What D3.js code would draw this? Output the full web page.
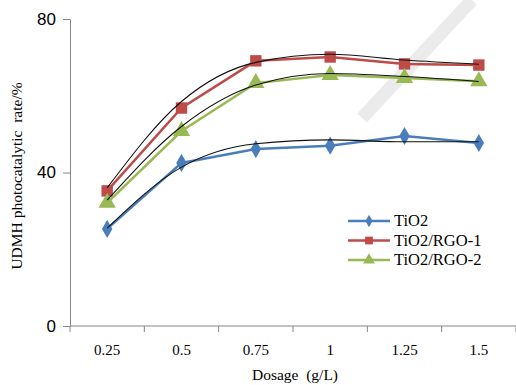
<!DOCTYPE html>
<html>
<head>
<meta charset="utf-8">
<script src="https://cdn.jsdelivr.net/npm/d3@7"></script>
<style>
  body { margin: 0; background: #fff; }
  svg { display: block; }
</style>
</head>
<body>
<div id="chart"></div>
<script>
// data
const dosages = ['0.25', '0.5', '0.75', '1', '1.25', '1.5'];
const tio2 = [25.3, 42.5, 46.1, 47.0, 49.5, 47.7];
const rgo1 = [35.2, 56.8, 69.1, 70.1, 68.3, 68.0];
const rgo2 = [32.1, 50.8, 63.3, 65.4, 64.6, 63.8];
// black trend curves
const tio2Trend = [25.5, 41.4, 47.5, 48.5, 48.0, 48.0];
const rgo1Trend = [36.0, 58.5, 68.7, 70.8, 69.3, 68.2];
const rgo2Trend = [32.8, 52.0, 62.8, 65.8, 65.0, 63.7];
const yTicks = [0, 40, 80];

const series = [
  { name: 'TiO2', values: tio2, trend: tio2Trend, color: '#4a7ebb', shape: d3.symbolDiamond },
  { name: 'TiO2/RGO-1', values: rgo1, trend: rgo1Trend, color: '#be4b48', shape: d3.symbolSquare },
  { name: 'TiO2/RGO-2', values: rgo2, trend: rgo2Trend, color: '#98b954', shape: d3.symbolTriangle }
];

const W = 516, H = 385;
const margin = { top: 19, right: 0, bottom: 59, left: 70 };
const serif = 'Liberation Serif, Times New Roman, serif';

const svg = d3.select('#chart').append('svg')
  .attr('width', W).attr('height', H);

// faint diagonal stroke of the background logo
svg.append('line')
  .attr('x1', 472).attr('y1', 0).attr('x2', 362).attr('y2', 118)
  .attr('stroke', '#ebebeb').attr('stroke-width', 13);

const x = d3.scaleBand()
  .domain(dosages)
  .range([margin.left, W - margin.right]);

const y = d3.scaleLinear()
  .domain([0, 80])
  .range([H - margin.bottom, margin.top]);

const cx = d => x(d) + x.bandwidth() / 2;

// x axis
const xAxis = svg.append('g')
  .attr('transform', `translate(0,${H - margin.bottom})`);
xAxis.append('line')
  .attr('x1', margin.left).attr('x2', W)
  .attr('stroke', '#868686');
xAxis.selectAll('.tick')
  .data(d3.range(dosages.length + 1))
  .enter().append('line')
  .attr('x1', i => margin.left + i * x.bandwidth())
  .attr('x2', i => margin.left + i * x.bandwidth())
  .attr('y1', 0).attr('y2', 6)
  .attr('stroke', '#868686');
xAxis.selectAll('text')
  .data(dosages)
  .enter().append('text')
  .attr('x', d => cx(d))
  .attr('y', 29)
  .attr('text-anchor', 'middle')
  .style('font-family', serif)
  .style('font-size', '15px')
  .text(d => d);

// y axis
const yAxis = svg.append('g')
  .attr('transform', `translate(${margin.left},0)`)
  .call(d3.axisLeft(y).tickValues(yTicks).tickSize(7).tickSizeOuter(0));
yAxis.select('.domain').attr('stroke', '#868686');
yAxis.selectAll('.tick line').attr('stroke', '#868686');
yAxis.selectAll('.tick text')
  .attr('x', -14)
  .attr('fill', '#000')
  .style('font-family', 'Liberation Sans, Arial, sans-serif')
  .style('font-size', '17px');

// axis titles
svg.append('text')
  .attr('transform', `translate(22,176) rotate(-90)`)
  .attr('text-anchor', 'middle')
  .style('font-family', serif)
  .style('font-size', '15.5px')
  .text('UDMH photocatalytic\u00a0 rate/%');

svg.append('text')
  .attr('x', 295).attr('y', 380)
  .attr('text-anchor', 'middle')
  .style('font-family', serif)
  .style('font-size', '15.5px')
  .text('Dosage\u00a0 (g/L)');

// series lines
const line = d3.line()
  .x((d, i) => cx(dosages[i]))
  .y(d => y(d));

const trendLine = d3.line()
  .x((d, i) => cx(dosages[i]))
  .y(d => y(d))
  .curve(d3.curveMonotoneX);

series.forEach(s => {
  svg.append('path')
    .datum(s.values)
    .attr('fill', 'none')
    .attr('stroke', s.color)
    .attr('stroke-width', 2.5)
    .attr('d', line);

  svg.selectAll(null)
    .data(s.values)
    .enter().append('path')
    .attr('transform', (d, i) => `translate(${cx(dosages[i])},${y(d)})`)
    .attr('d', d3.symbol().type(s.shape).size(s.shape === d3.symbolDiamond ? 95 : 130))
    .attr('fill', s.color);
});

series.forEach(s => {
  svg.append('path')
    .datum(s.trend)
    .attr('fill', 'none')
    .attr('stroke', '#111')
    .attr('stroke-width', 1.1)
    .attr('d', trendLine);
});

// legend
const legend = svg.append('g');
series.forEach((s, i) => {
  const ly = 221 + i * 19.5;
  legend.append('line')
    .attr('x1', 348).attr('x2', 390)
    .attr('y1', ly).attr('y2', ly)
    .attr('stroke', s.color).attr('stroke-width', 2.5);
  legend.append('path')
    .attr('transform', `translate(369,${ly})`)
    .attr('d', d3.symbol().type(s.shape).size(s.shape === d3.symbolDiamond ? 45 : 60))
    .attr('fill', s.color);
  legend.append('text')
    .attr('x', 394).attr('y', ly + 5)
    .style('font-family', serif)
    .style('font-size', '16.5px')
    .text(s.name);
});
</script>
</body>
</html>
